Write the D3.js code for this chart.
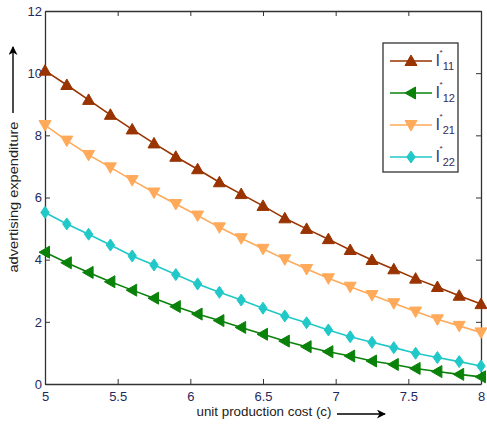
<!DOCTYPE html>
<html>
<head>
    <script src="https://d3js.org/d3.v7.min.js"></script>
    <style>
        body { margin: 0; background: #fff; }
        text { font-family: "Liberation Sans", Arial, sans-serif; }
        .tick text { fill: #1f2a5c; font-size: 13px; }
    </style>
</head>
<body>
    <script>
        // unit production cost c, 5 .. 8 in steps of 0.15
        var cost = [5, 5.15, 5.3, 5.45, 5.6, 5.75, 5.9, 6.05, 6.2, 6.35, 6.5,
                    6.65, 6.8, 6.95, 7.1, 7.25, 7.4, 7.55, 7.7, 7.85, 8];

        var l11 = [10.08, 9.62, 9.14, 8.66, 8.19, 7.74, 7.31, 6.91, 6.49, 6.11, 5.73,
                   5.33, 4.99, 4.66, 4.31, 3.99, 3.69, 3.39, 3.12, 2.84, 2.57];
        var l12 = [4.24, 3.90, 3.59, 3.29, 3.02, 2.76, 2.49, 2.25, 2.04, 1.82, 1.60,
                   1.38, 1.20, 1.04, 0.90, 0.74, 0.63, 0.50, 0.40, 0.31, 0.23];
        var l21 = [8.33, 7.83, 7.37, 6.97, 6.56, 6.16, 5.79, 5.42, 5.04, 4.69, 4.35,
                   4.01, 3.70, 3.40, 3.13, 2.86, 2.60, 2.33, 2.08, 1.87, 1.66];
        var l22 = [5.52, 5.15, 4.82, 4.47, 4.12, 3.83, 3.52, 3.22, 2.95, 2.70, 2.44,
                   2.19, 1.97, 1.74, 1.52, 1.34, 1.17, 0.99, 0.85, 0.72, 0.58];

        var xTicks = [5, 5.5, 6, 6.5, 7, 7.5, 8];
        var yTicks = [0, 2, 4, 6, 8, 10, 12];

        var series = [
            { sub: "11", values: l11, color: "#993300", marker: "up" },
            { sub: "12", values: l12, color: "#0a820a", marker: "left" },
            { sub: "21", values: l21, color: "#ffaa5a", marker: "down" },
            { sub: "22", values: l22, color: "#20c8c8", marker: "diamond" }
        ];

        var W = 487, H = 430;
        var margin = { left: 45, right: 6, top: 11, bottom: 46 };

        var svg = d3.select("body").append("svg")
            .attr("width", W)
            .attr("height", H);

        svg.append("defs").append("marker")
            .attr("id", "arrow")
            .attr("viewBox", "0 0 10 10")
            .attr("refX", 9).attr("refY", 5)
            .attr("markerWidth", 10).attr("markerHeight", 9)
            .attr("markerUnits", "userSpaceOnUse")
            .attr("orient", "auto")
            .append("path")
            .attr("d", "M0,0 L10,5 L0,10 L3,5 Z")
            .attr("fill", "#000");

        var x = d3.scaleLinear().domain([5, 8]).range([margin.left, W - margin.right]);
        var y = d3.scaleLinear().domain([0, 12]).range([H - margin.bottom, margin.top]);

        // axes, MATLAB style: ticks inward, box all round
        var tl = 5;
        svg.append("g")
            .attr("class", "x axis")
            .attr("transform", "translate(0," + y(0) + ")")
            .call(d3.axisBottom(x).tickValues(xTicks).tickSizeInner(-tl).tickSizeOuter(0).tickPadding(8)
                .tickFormat(d3.format("")));
        svg.append("g")
            .attr("class", "y axis")
            .attr("transform", "translate(" + x(5) + ",0)")
            .call(d3.axisLeft(y).tickValues(yTicks).tickSizeInner(-tl).tickSizeOuter(0).tickPadding(3));
        svg.append("g")
            .attr("transform", "translate(0," + y(12) + ")")
            .call(d3.axisTop(x).tickValues(xTicks).tickSizeInner(-tl).tickSizeOuter(0).tickFormat(""));
        svg.append("g")
            .attr("transform", "translate(" + x(8) + ",0)")
            .call(d3.axisRight(y).tickValues(yTicks).tickSizeInner(-tl).tickSizeOuter(0).tickFormat(""));

        svg.selectAll(".domain").attr("stroke", "#333").attr("stroke-width", 1.3);
        svg.selectAll(".tick line").attr("stroke", "#333");

        function markerPath(type, s) {
            if (type === "up") return "M0," + (-s) + " L" + s + "," + (s * 0.75) + " L" + (-s) + "," + (s * 0.75) + " Z";
            if (type === "down") return "M0," + s + " L" + s + "," + (-s * 0.75) + " L" + (-s) + "," + (-s * 0.75) + " Z";
            if (type === "left") return "M" + (-s) + ",0 L" + (s * 0.75) + "," + (-s) + " L" + (s * 0.75) + "," + s + " Z";
            return "M0," + (-s) + " L" + (s * 0.7) + ",0 L0," + s + " L" + (-s * 0.7) + ",0 Z";
        }

        var line = d3.line()
            .x(function(d, i) { return x(cost[i]); })
            .y(function(d) { return y(d); });

        var plot = svg.append("g");
        series.forEach(function(s) {
            plot.append("path")
                .attr("d", line(s.values))
                .attr("fill", "none")
                .attr("stroke", s.color)
                .attr("stroke-width", 1.6);
            plot.selectAll(null)
                .data(s.values)
                .enter().append("path")
                .attr("transform", function(d, i) { return "translate(" + x(cost[i]) + "," + y(d) + ")"; })
                .attr("d", markerPath(s.marker, 6))
                .attr("fill", s.color)
                .attr("stroke", s.color);
        });

        // legend
        var lg = svg.append("g").attr("transform", "translate(383,43)");
        lg.append("rect")
            .attr("width", 75).attr("height", 129)
            .attr("fill", "#fff")
            .attr("stroke", "#333").attr("stroke-width", 1.3);
        series.forEach(function(s, i) {
            var cy = 18 + i * 32;
            lg.append("line")
                .attr("x1", 7).attr("x2", 49).attr("y1", cy).attr("y2", cy)
                .attr("stroke", s.color).attr("stroke-width", 1.6);
            lg.append("path")
                .attr("transform", "translate(28," + cy + ")")
                .attr("d", markerPath(s.marker, 6))
                .attr("fill", s.color).attr("stroke", s.color);
            var t = lg.append("text")
                .attr("x", 53).attr("y", cy + 5)
                .attr("fill", "#3a2a5a")
                .style("font-size", "16px");
            t.append("tspan").text("l");
            t.append("tspan").attr("dx", 0).attr("dy", -11).style("font-size", "8px").text("*");
            t.append("tspan").attr("dx", 0).attr("dy", 15).style("font-size", "11px").text(s.sub);
        });

        // axis titles with arrows
        svg.append("text")
            .attr("x", 264).attr("y", 416)
            .attr("text-anchor", "middle")
            .attr("fill", "#222")
            .attr("textLength", 135)
            .attr("lengthAdjust", "spacingAndGlyphs")
            .style("font-size", "13px")
            .text("unit production cost (c)");
        svg.append("line")
            .attr("x1", 337).attr("x2", 385).attr("y1", 414).attr("y2", 414)
            .attr("stroke", "#000").attr("stroke-width", 1.4)
            .attr("marker-end", "url(#arrow)");

        svg.append("text")
            .attr("transform", "translate(18,197) rotate(-90)")
            .attr("text-anchor", "middle")
            .attr("fill", "#222")
            .attr("textLength", 151)
            .attr("lengthAdjust", "spacingAndGlyphs")
            .style("font-size", "13px")
            .text("advertising expenditure");
        svg.append("line")
            .attr("x1", 13).attr("x2", 13).attr("y1", 113).attr("y2", 47)
            .attr("stroke", "#000").attr("stroke-width", 1.4)
            .attr("marker-end", "url(#arrow)");
    </script>
</body>
</html>
